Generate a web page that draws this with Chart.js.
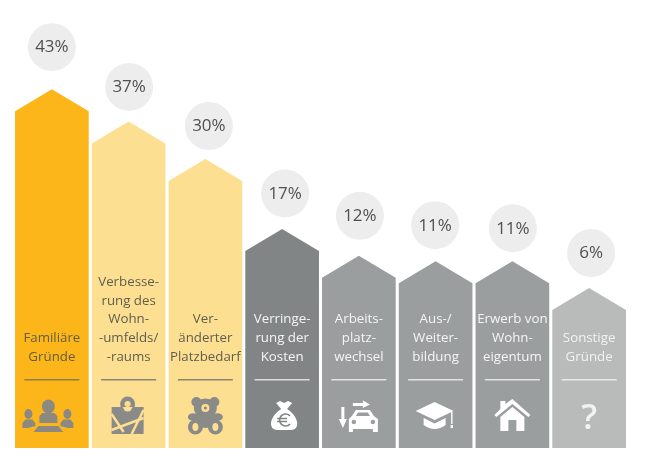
<!DOCTYPE html>
<html lang="de">
<head>
<meta charset="utf-8">
<title>Umzugsgründe</title>
<script src="https://cdn.jsdelivr.net/npm/chart.js@4/dist/chart.umd.js"></script>
<style>
  html, body { margin: 0; padding: 0; background: #fff; }
  canvas { display: block; }
</style>
</head>
<body>
<canvas id="reasonsChart" width="656" height="467"></canvas>
<script>
const categories = [
  ['Familiäre', 'Gründe'],
  ['Verbesse-', 'rung des', 'Wohn-', '-umfelds/', '-raums'],
  ['Ver-', 'änderter', 'Platzbedarf'],
  ['Verringe-', 'rung der', 'Kosten'],
  ['Arbeits-', 'platz-', 'wechsel'],
  ['Aus-/', 'Weiter-', 'bildung'],
  ['Erwerb von', 'Wohn-', 'eigentum'],
  ['Sonstige', 'Gründe']
];
const shares = [43, 37, 30, 17, 12, 11, 11, 6];

const barColors = ['#fdb61a', '#fddf91', '#fddf91', '#828586', '#9b9e9f', '#9b9e9f', '#9b9e9f', '#b9bbba'];
const textColors = ['#625e42', '#5f5e50', '#5f5e50', '#f5f5f5', '#f5f5f5', '#f5f5f5', '#f5f5f5', '#f2f2f2'];
const ruleColors = ['#8f7f4a', '#8b8674', '#8b8674', '#dcdcdc', '#e2e2e2', '#e2e2e2', '#e2e2e2', '#e8e8e8'];
const iconColors = ['#8c8a80', '#8a8b88', '#8a8b88', '#ffffff', '#ffffff', '#ffffff', '#ffffff', '#f2f2f2'];
const iconShift = [-3.5, -1, 0, 2, 0, -1, 0, 0]; // icons are not quite centred in the original
const badgeShift = [0, 0.5, 3.5, 3, 1, -0.5, 0.5, 2];
const badgeLift = [42, 34.5, 33, 35.5, 40, 36, 33, 35];

const SHOULDER = 22;

// house shaped bars: same rect the bar element would get, roof cut off the top
Chart.BarElement.prototype.draw = function (ctx) {
  const half = this.width / 2;
  ctx.save();
  ctx.fillStyle = this.options.backgroundColor;
  ctx.beginPath();
  ctx.moveTo(this.x - half, this.base);
  ctx.lineTo(this.x - half, this.y + SHOULDER);
  ctx.lineTo(this.x, this.y);
  ctx.lineTo(this.x + half, this.y + SHOULDER);
  ctx.lineTo(this.x + half, this.base);
  ctx.closePath();
  ctx.fill();
  ctx.restore();
};

function circle(ctx, x, y, r) {
  ctx.moveTo(x + r, y);
  ctx.arc(x, y, r, 0, Math.PI * 2);
}

function ellipse(ctx, x, y, rx, ry) {
  ctx.moveTo(x + rx, y);
  ctx.ellipse(x, y, rx, ry, 0, 0, Math.PI * 2);
}

function poly(ctx, points) {
  ctx.moveTo(points[0][0], points[0][1]);
  for (let i = 1; i < points.length; i++) ctx.lineTo(points[i][0], points[i][1]);
  ctx.closePath();
}

// icons are drawn around (0, 0)
const icons = [
  function people(ctx, bg) {
    ctx.beginPath();
    ellipse(ctx, -20, -2, 4, 5);
    poly(ctx, [[-26, 12], [-26, 7], [-23, 3.5], [-16, 3.5], [-13, 7], [-13, 10], [-20, 12]]);
    ellipse(ctx, 19, -2, 4, 5);
    poly(ctx, [[25, 12], [25, 7], [22, 3.5], [15, 3.5], [12, 7], [12, 10], [19, 12]]);
    ellipse(ctx, 0, -9.5, 6.5, 7);
    poly(ctx, [[-9, 7], [-9, 0], [-6, -3], [6, -3], [9, 0], [9, 7]]);
    poly(ctx, [[-10, 10], [10, 10], [15, 16], [-15, 16]]);
    ctx.fill();
  },
  function map(ctx, bg) {
    ctx.beginPath();
    poly(ctx, [[-16, -9], [-5, -9], [0, 0], [5, -9], [16, -9], [16, 18], [-16, 18]]);
    ctx.fill();
    ctx.strokeStyle = bg;
    ctx.lineWidth = 2.5;
    ctx.beginPath();
    ctx.moveTo(-16, -2); ctx.lineTo(-4, 16);
    ctx.moveTo(-16, 14); ctx.lineTo(16, 2);
    ctx.moveTo(16, -6); ctx.lineTo(4, 18);
    ctx.stroke();
    ctx.beginPath();
    circle(ctx, 0, -12, 7.5);
    ctx.moveTo(-7, -9); ctx.lineTo(0, 3); ctx.lineTo(7, -9);
    ctx.fill();
    ctx.fillStyle = bg;
    ctx.beginPath();
    circle(ctx, 0, -12, 3);
    ctx.fill();
  },
  function bear(ctx, bg) {
    ctx.beginPath();
    circle(ctx, -9, -14, 5);
    circle(ctx, 9, -14, 5);
    ellipse(ctx, 0, -8, 11.5, 9.5);
    ellipse(ctx, 0, 4, 9, 8);
    ellipse(ctx, -12, 1, 5.5, 3.8);
    ellipse(ctx, 12, 1, 5.5, 3.8);
    circle(ctx, -10, 11, 7.5);
    circle(ctx, 10, 11, 7.5);
    ctx.fill();
    ctx.fillStyle = bg;
    ctx.beginPath();
    ellipse(ctx, 0, -8, 4, 4);
    ellipse(ctx, -10, 11, 3, 4);
    ellipse(ctx, 10, 11, 3, 4);
    ctx.fill();
    ctx.fillStyle = '#8a8b88';
    ctx.beginPath();
    circle(ctx, 0, -8, 1.6);
    ctx.fill();
  },
  function moneyBag(ctx, bg) {
    ctx.beginPath();
    ctx.moveTo(-3, -7);
    ctx.lineTo(-8, -13); ctx.lineTo(-4, -15); ctx.lineTo(0, -13); ctx.lineTo(4, -15); ctx.lineTo(8, -13); ctx.lineTo(3, -7);
    ctx.bezierCurveTo(10, -3, 14, 5, 13, 9);
    ctx.bezierCurveTo(12, 14, 8, 14, 4, 14);
    ctx.lineTo(-4, 14);
    ctx.bezierCurveTo(-8, 14, -12, 14, -13, 9);
    ctx.bezierCurveTo(-14, 5, -10, -3, -3, -7);
    ctx.closePath();
    ctx.fill();
    ctx.strokeStyle = bg;
    ctx.lineWidth = 1.6;
    ctx.beginPath();
    ctx.arc(1.5, 4, 6, 0.75, Math.PI * 2 - 0.75, false);
    ctx.moveTo(-7, 2.5); ctx.lineTo(3, 2.5);
    ctx.moveTo(-7, 5.5); ctx.lineTo(3, 5.5);
    ctx.stroke();
  },
  function carSwitch(ctx, bg) {
    ctx.beginPath();
    poly(ctx, [[-6, -13], [4, -13], [4, -15.5], [11, -11.5], [4, -8], [4, -10], [-6, -10]]);
    poly(ctx, [[-17.5, -9], [-14.5, -9], [-14.5, 3], [-12, 3], [-16, 12], [-20, 3], [-17.5, 3]]);
    ctx.moveTo(-7, 0);
    ctx.lineTo(-3, -6); ctx.lineTo(11, -6); ctx.lineTo(15, 0);
    ctx.lineTo(19, 3); ctx.lineTo(19, 16); ctx.lineTo(14, 16); ctx.lineTo(14, 13);
    ctx.lineTo(-6, 13); ctx.lineTo(-6, 16); ctx.lineTo(-10, 16); ctx.lineTo(-10, 3);
    ctx.closePath();
    ctx.fill();
    ctx.fillStyle = bg;
    ctx.beginPath();
    poly(ctx, [[-3, 0], [-1, -3.5], [9, -3.5], [11, 0]]);
    circle(ctx, -5, 6, 2.2);
    circle(ctx, 14, 6, 2.2);
    ctx.fill();
  },
  function gradCap(ctx, bg) {
    ctx.beginPath();
    poly(ctx, [[0, -14], [19, -5], [0, 4], [-19, -5]]);
    ctx.moveTo(-11, 2);
    ctx.lineTo(0, 7.5);
    ctx.lineTo(11, 2);
    ctx.lineTo(11, 9);
    ctx.quadraticCurveTo(0, 17, -11, 9);
    ctx.closePath();
    ctx.fill();
    ctx.fillRect(16.5, -4, 1.4, 12);
    ctx.fillRect(16, 9, 2.4, 3);
  },
  function house(ctx, bg) {
    ctx.beginPath();
    poly(ctx, [[0, -17], [18, -1], [16, 1], [0, -12], [-16, 1], [-18, -1], [-12, -7], [-12, -15], [-7, -15], [-7, -12]]);
    poly(ctx, [[0, -9], [12, 1], [12, 15], [4, 15], [4, 4], [-4, 4], [-4, 15], [-12, 15], [-12, 1]]);
    ctx.fill();
  },
  function questionMark(ctx, bg) {
    ctx.font = '600 35px "Open Sans", sans-serif';
    ctx.textAlign = 'center';
    ctx.textBaseline = 'middle';
    ctx.fillText('?', 0, 3);
  }
];

const housePlugin = {
  id: 'housePlugin',
  afterDatasetsDraw(chart) {
    const ctx = chart.ctx;
    const bars = chart.getDatasetMeta(0).data;
    ctx.save();
    bars.forEach((bar, i) => {
      // percent badge over the roof
      const badgeX = bar.x + badgeShift[i];
      const badgeY = bar.y - badgeLift[i];
      ctx.fillStyle = '#ededed';
      ctx.beginPath();
      ctx.arc(badgeX, badgeY, 24, 0, Math.PI * 2);
      ctx.fill();
      ctx.fillStyle = '#505050';
      ctx.font = '17px "Open Sans", sans-serif';
      ctx.textAlign = 'center';
      ctx.textBaseline = 'middle';
      ctx.fillText(shares[i] + '%', badgeX, badgeY + 0.5);

      // label lines, stacked up from the rule
      ctx.fillStyle = textColors[i];
      ctx.font = '13.3px "Open Sans", sans-serif';
      const lines = categories[i];
      lines.forEach((line, n) => {
        ctx.fillText(line, bar.x, 357 - (lines.length - 1 - n) * 18.7);
      });

      ctx.strokeStyle = ruleColors[i];
      ctx.lineWidth = 1.5;
      ctx.beginPath();
      ctx.moveTo(bar.x - 27.5, 379.7);
      ctx.lineTo(bar.x + 27.5, 379.7);
      ctx.stroke();

      ctx.save();
      ctx.translate(bar.x + iconShift[i], 416);
      ctx.fillStyle = iconColors[i];
      icons[i](ctx, barColors[i]);
      ctx.restore();
    });
    ctx.restore();
  }
};

new Chart(document.getElementById('reasonsChart'), {
  type: 'bar',
  data: {
    labels: categories,
    datasets: [{
      data: shares,
      backgroundColor: barColors,
      base: -23.75,
      barPercentage: 0.96,
      categoryPercentage: 1
    }]
  },
  options: {
    responsive: false,
    animation: false,
    layout: { padding: { left: 13.5, right: 28.5, top: 0, bottom: 19 } },
    scales: {
      x: { display: false },
      y: { display: false, min: -23.75, max: 59.58 }
    },
    plugins: { legend: { display: false }, tooltip: { enabled: false } }
  },
  plugins: [housePlugin]
});
</script>
</body>
</html>
